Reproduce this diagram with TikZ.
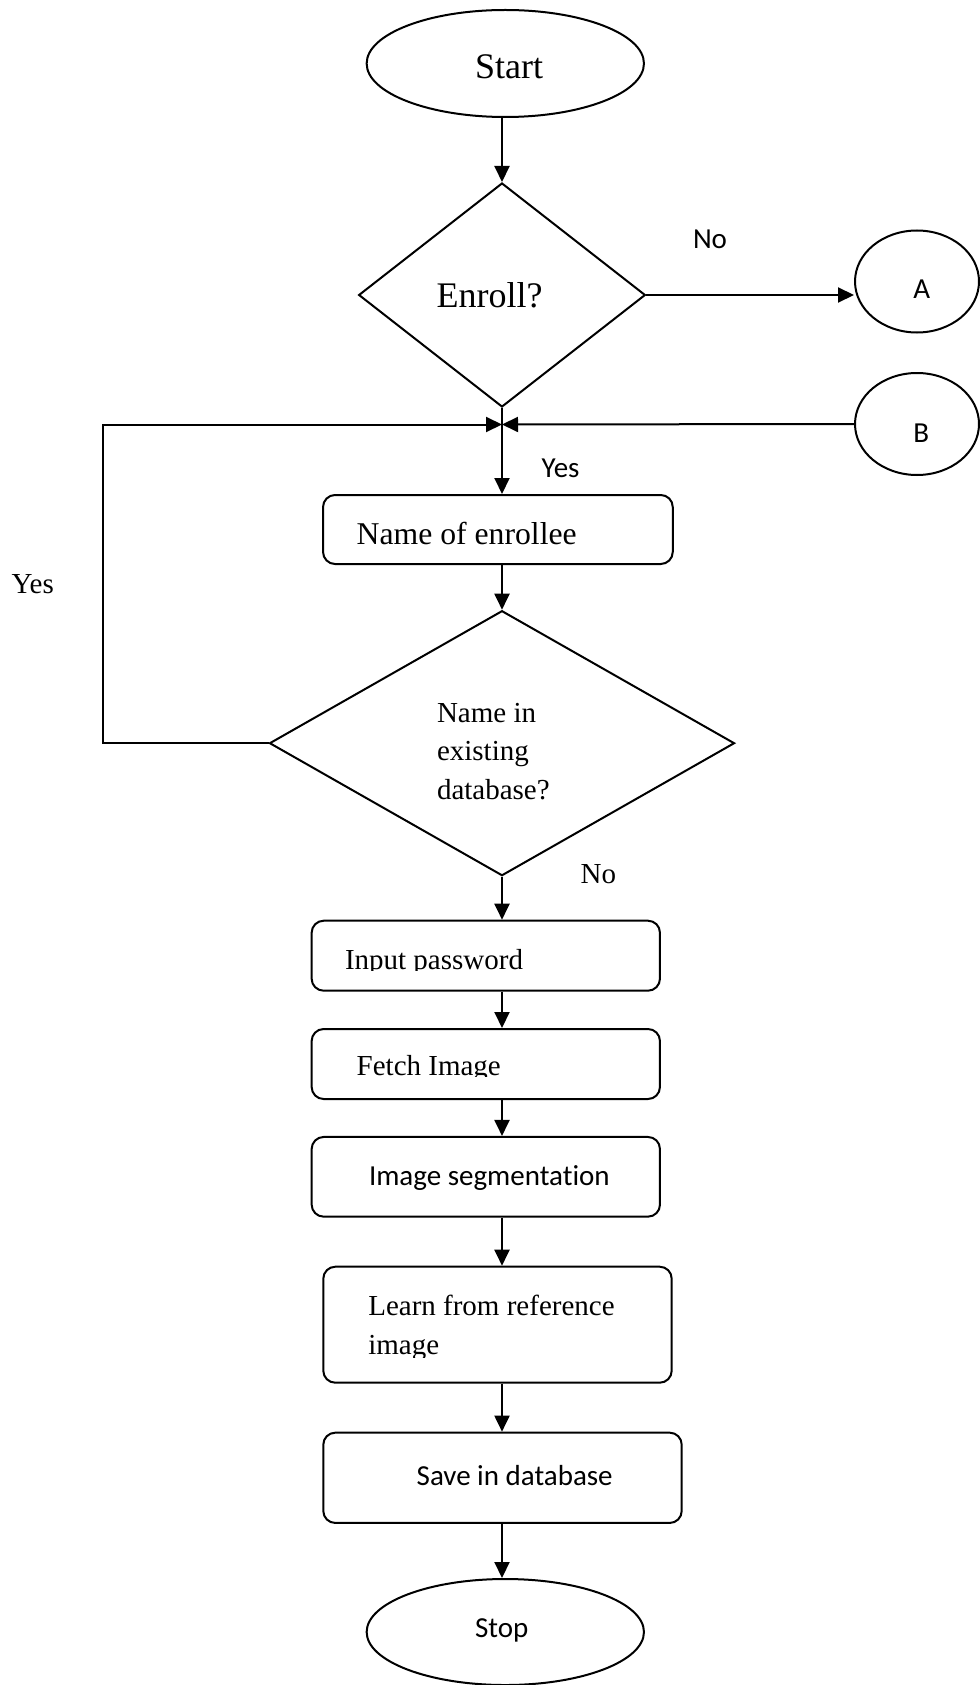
\documentclass[tikz,border=0pt]{standalone}
\usepackage{fontspec}
\setmainfont{Liberation Serif}
\newfontfamily\sansf[Ligatures=NoCommon]{Carlito}
\usetikzlibrary{shapes.geometric,arrows.meta}

\tikzset{
  flow/.style={draw, line width=2pt},
  pbox/.style={flow, rectangle, rounded corners=12pt, inner sep=0pt},
  term/.style={flow, ellipse, inner sep=0pt},
  decide/.style={flow, diamond, inner sep=0pt},
  arr/.style={line width=2pt, -{Triangle[length=16pt,width=15pt]}},
  link/.style={line width=2pt},
  txt/.style={anchor=base west, inner sep=0pt, outer sep=0pt},
  rm/.style={txt, font=\fontsize{29}{38.5}\selectfont},
  rmbig/.style={txt, font=\fontsize{36}{40}\selectfont},
  ss/.style={txt, font=\sansf\fontsize{29}{36}\selectfont},
}

\begin{document}
\begin{tikzpicture}[x=1pt, y=-1pt]
  \useasboundingbox (0,0) rectangle (979,1685);

  % vertical spine of the main flow
  \coordinate (axis) at (502,0);

  % shapes
  \node[term, minimum width=277.3pt, minimum height=107pt] (start) at (505.3,63.5) {};
  \node[decide, minimum width=286.7pt, minimum height=224pt] (enroll) at (502,295) {};
  \node[term, minimum width=124pt, minimum height=102pt] (A) at (917,281.5) {};
  \node[term, minimum width=124pt, minimum height=102pt] (B) at (917,424) {};
  \node[pbox, minimum width=349.7pt, minimum height=69pt] (nameenr) at (497.9,529.5) {};
  \node[decide, minimum width=465pt, minimum height=265pt] (namedb) at (502,743.2) {};
  \node[pbox, minimum width=348.3pt, minimum height=70pt] (inpw) at (485.8,955.7) {};
  \node[pbox, minimum width=348.3pt, minimum height=70pt] (fetch) at (485.8,1064) {};
  \node[pbox, minimum width=348.3pt, minimum height=79.7pt] (seg) at (485.8,1176.8) {};
  \node[pbox, minimum width=348.4pt, minimum height=116pt] (learn) at (497.5,1324.7) {};
  \node[pbox, minimum width=358.4pt, minimum height=90.3pt] (save) at (502.5,1477.8) {};
  \node[term, minimum width=277.3pt, minimum height=106pt] (stop) at (505.3,1632) {};

  % junction of the two incoming branches
  \coordinate (join) at (502,424.5);
  \coordinate (loopcorner) at (103,743.2);

  % texts (multi-line blocks are placed by their last baseline)
  \node[rmbig] (tstart) at (475,78.3) {Start};
  \node[rmbig] (tenroll) at (436.7,307.3) {Enroll?};
  \node[ss] (tno1) at (693,248.3) {No};
  \node[ss] (tA) at (913.3,299) {A};
  \node[ss] (tB) at (913.3,442.7) {B};
  \node[ss] (tyes1) at (541.7,477.3) {Yes};
  \node[txt, font=\fontsize{31.7}{36}\selectfont] (tnameenr) at (356.7,544) {Name of enrollee};
  \node[rm] (tyes2) at (11.7,593) {Yes};
  \node[rm, align=left] (tnamedb) at (437,799.3) {Name in\\existing\\database?};
  \node[rm] (tno2) at (580.7,883.3) {No};
  \begin{scope}
    \clip (311.7,920.7) rectangle (660,970.7);
    \node[rm] (tinpw) at (345,969) {Input password};
  \end{scope}
  \begin{scope}
    \clip (311.7,1029) rectangle (660,1076.7);
    \node[rm] (tfetch) at (356.7,1075.7) {Fetch Image};
  \end{scope}
  \node[ss] (tseg) at (369,1185) {Image segmentation};
  \begin{scope}
    \clip (323.3,1266.7) rectangle (671.7,1357);
    \node[rm, align=left] (tlearn) at (368.3,1354.3) {Learn from reference\\image};
  \end{scope}
  \node[ss] (tsave) at (416.7,1485) {Save in database};
  \node[ss] (tstop) at (475,1637.3) {Stop};

  % connectors
  \draw[arr] (start.south -| axis) -- (enroll.north);
  \draw[arr] (enroll.east) -- (enroll.east -| A.west);
  \draw[link] (enroll.south) -- (join);
  \draw[arr] (join) -- (nameenr.north -| join);
  \draw[arr] (namedb.west) -- (loopcorner) |- (join);
  \draw[arr] (B.west) -- (join);
  \draw[arr] (nameenr.south -| axis) -- (namedb.north);
  \draw[arr] (namedb.south) -- (inpw.north -| namedb.south);
  \draw[arr] (inpw.south -| axis) -- (fetch.north -| axis);
  \draw[arr] (fetch.south -| axis) -- (seg.north -| axis);
  \draw[arr] (seg.south -| axis) -- (learn.north -| axis);
  \draw[arr] (learn.south -| axis) -- (save.north -| axis);
  \draw[arr] (save.south -| axis) -- (stop.north -| axis);
\end{tikzpicture}
\end{document}
